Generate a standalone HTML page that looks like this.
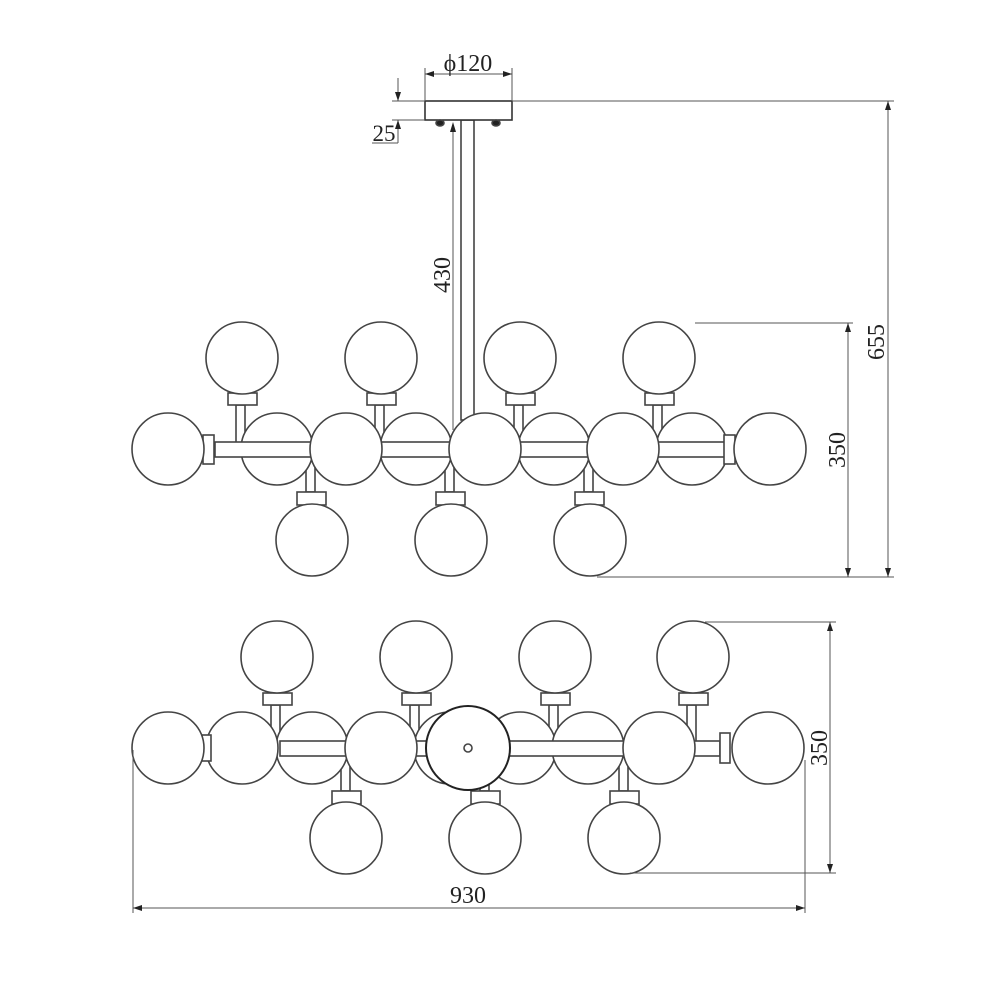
<!DOCTYPE html>
<html><head><meta charset="utf-8"><style>
html,body{margin:0;padding:0;background:#fff;width:1000px;height:1000px;overflow:hidden}
text{font-family:"Liberation Serif",serif;fill:#222}
</style></head><body>
<svg width="1000" height="1000" viewBox="0 0 1000 1000" xmlns="http://www.w3.org/2000/svg">
<g fill="#fff" stroke="#444" stroke-width="1.6">
<rect x="461" y="120" width="13" height="300"/>
<rect x="425" y="101" width="87" height="19" stroke="#333"/>
<ellipse cx="440" cy="123" rx="4" ry="3" fill="#222"/>
<ellipse cx="496" cy="123" rx="4" ry="3" fill="#222"/>
<rect x="236" y="405" width="9" height="38"/><rect x="228" y="393" width="29" height="12"/>
<rect x="375" y="405" width="9" height="38"/><rect x="367" y="393" width="29" height="12"/>
<rect x="514" y="405" width="9" height="38"/><rect x="506" y="393" width="29" height="12"/>
<rect x="653" y="405" width="9" height="38"/><rect x="645" y="393" width="29" height="12"/>
<circle cx="242" cy="358" r="36"/><circle cx="381" cy="358" r="36"/><circle cx="520" cy="358" r="36"/><circle cx="659" cy="358" r="36"/>
<rect x="306" y="456" width="9" height="36"/><rect x="297" y="492" width="29" height="13"/>
<rect x="445" y="456" width="9" height="36"/><rect x="436" y="492" width="29" height="13"/>
<rect x="584" y="456" width="9" height="36"/><rect x="575" y="492" width="29" height="13"/>
<circle cx="312" cy="540" r="36"/><circle cx="451" cy="540" r="36"/><circle cx="590" cy="540" r="36"/>
<circle cx="277" cy="449" r="36"/><circle cx="416" cy="449" r="36"/><circle cx="554" cy="449" r="36"/><circle cx="692" cy="449" r="36"/>
<rect x="215" y="442" width="510" height="15"/>
<circle cx="346" cy="449" r="36"/><circle cx="485" cy="449" r="36"/><circle cx="623" cy="449" r="36"/>
<rect x="203" y="435" width="11" height="29"/>
<rect x="724" y="435" width="11" height="29"/>
<circle cx="168" cy="449" r="36"/><circle cx="770" cy="449" r="36"/>

<rect x="271" y="705" width="9" height="38"/><rect x="263" y="693" width="29" height="12"/>
<rect x="410" y="705" width="9" height="38"/><rect x="402" y="693" width="29" height="12"/>
<rect x="549" y="705" width="9" height="38"/><rect x="541" y="693" width="29" height="12"/>
<rect x="687" y="705" width="9" height="38"/><rect x="679" y="693" width="29" height="12"/>
<circle cx="277" cy="657" r="36"/><circle cx="416" cy="657" r="36"/><circle cx="555" cy="657" r="36"/><circle cx="693" cy="657" r="36"/>
<rect x="341" y="755" width="9" height="36"/><rect x="332" y="791" width="29" height="13"/>
<rect x="480" y="755" width="9" height="36"/><rect x="471" y="791" width="29" height="13"/>
<rect x="619" y="755" width="9" height="36"/><rect x="610" y="791" width="29" height="13"/>
<circle cx="346" cy="838" r="36"/><circle cx="485" cy="838" r="36"/><circle cx="624" cy="838" r="36"/>
<circle cx="312" cy="748" r="36"/><circle cx="450" cy="748" r="36"/><circle cx="520" cy="748" r="36"/><circle cx="588" cy="748" r="36"/>
<rect x="280" y="741" width="440" height="15"/>
<circle cx="242" cy="748" r="36"/><circle cx="381" cy="748" r="36"/><circle cx="659" cy="748" r="36"/>
<rect x="202" y="735" width="9" height="26"/>
<rect x="720" y="733" width="10" height="30"/>
<circle cx="168" cy="748" r="36"/><circle cx="768" cy="748" r="36"/>
<circle cx="468" cy="748" r="42" stroke="#222" stroke-width="2"/>
<circle cx="468" cy="748" r="4"/>
</g>

<g stroke="#555" stroke-width="1" fill="none">
<line x1="425" y1="68" x2="425" y2="100"/><line x1="512" y1="68" x2="512" y2="100"/>
<line x1="425" y1="74" x2="512" y2="74"/>
<line x1="392" y1="101" x2="425" y2="101"/><line x1="392" y1="120" x2="425" y2="120"/>
<line x1="398" y1="78" x2="398" y2="101"/><line x1="398" y1="120" x2="398" y2="143"/>
<line x1="372" y1="143" x2="398" y2="143"/>
<line x1="453" y1="125" x2="453" y2="430"/>
<line x1="512" y1="101" x2="894" y2="101"/>
<line x1="695" y1="323" x2="853" y2="323"/>
<line x1="597" y1="577" x2="894" y2="577"/>
<line x1="888" y1="101" x2="888" y2="577"/>
<line x1="848" y1="323" x2="848" y2="577"/>
<line x1="705" y1="622" x2="836" y2="622"/>
<line x1="630" y1="873" x2="836" y2="873"/>
<line x1="830" y1="622" x2="830" y2="873"/>
<line x1="133" y1="750" x2="133" y2="913"/>
<line x1="805" y1="760" x2="805" y2="913"/>
<line x1="133" y1="908" x2="805" y2="908"/>
</g>
<g fill="#222">
<polygon points="425,74 434,71 434,77"/><polygon points="512,74 503,71 503,77"/>
<polygon points="398,101 395,92 401,92"/><polygon points="398,120 395,129 401,129"/>
<polygon points="453,122 450,132 456,132"/>
<polygon points="888,101 885,110 891,110"/><polygon points="888,577 885,568 891,568"/>
<polygon points="848,323 845,332 851,332"/><polygon points="848,577 845,568 851,568"/>
<polygon points="830,622 827,631 833,631"/><polygon points="830,873 827,864 833,864"/>
<polygon points="133,908 142,905 142,911"/><polygon points="805,908 796,905 796,911"/>
</g>
<text x="468" y="71" font-size="24" text-anchor="middle">ϕ120</text>
<text x="384" y="141" font-size="23" text-anchor="middle">25</text>
<text transform="translate(450,275) rotate(-90)" font-size="24" text-anchor="middle">430</text>
<text transform="translate(884,342) rotate(-90)" font-size="24" text-anchor="middle">655</text>
<text transform="translate(845,450) rotate(-90)" font-size="24" text-anchor="middle">350</text>
<text transform="translate(827,748) rotate(-90)" font-size="24" text-anchor="middle">350</text>
<text x="468" y="903" font-size="24" text-anchor="middle">930</text>
</svg>
</body></html>
